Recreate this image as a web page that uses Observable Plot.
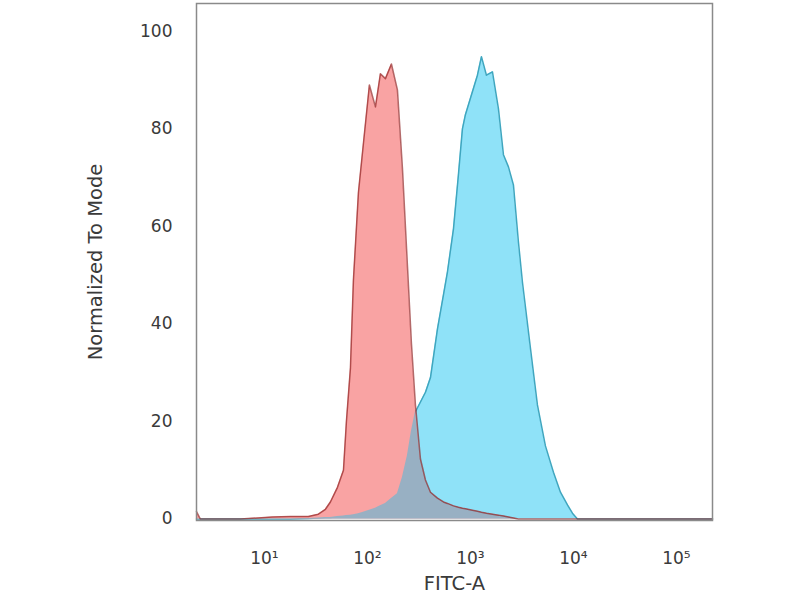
<!DOCTYPE html>
<html>
<head>
<meta charset="utf-8">
<script src="https://cdn.jsdelivr.net/npm/d3@7"></script>
<script src="https://cdn.jsdelivr.net/npm/@observablehq/plot@0.6"></script>
<style>
  body { margin: 0; background: #fff; }
  #chart { width: 800px; height: 600px; }
</style>
</head>
<body>
<div id="chart"></div>
<script>
// FITC-A intensity (shared grid for both histograms)
const fitc = [
  2.19, 2.39, 5.85, 11.96, 17.9, 26.7, 33.4, 39.1, 43.7, 51.2,
  58.5, 62.5, 68.4, 73.1, 81.8, 91.4, 104.5, 119.6, 133.7, 149.6,
  171, 195.5, 218.6, 244.5, 267.4, 292.4, 327.2, 365.9, 409.3, 478.6,
  547.4, 598.4, 684.3, 764.4, 836, 893.6, 1045, 1169, 1279, 1430,
  1636, 1871, 2091, 2339, 2615, 2924, 3197, 3826, 4470, 5346,
  6397, 7480, 8750, 9780, 10940, 14630, 223900
];

// isotype control (red), normalized to mode
const isotype = [
  1.5, 0, 0, 0.4, 0.5, 0.5, 1.0, 2.0, 3.5, 6.5,
  10, 20, 31, 49, 67, 77, 89, 84.5, 91.3, 90.3,
  93.3, 88, 72, 52, 36, 23.4, 12.3, 8, 5.5, 4.3,
  3.5, 3.2, 2.7, 2.4, 2.2, 2.1, 1.8, 1.6, 1.4, 1.2,
  1.0, 0.8, 0.6, 0.4, 0.2, 0, 0, 0, 0, 0,
  0, 0, 0, 0, 0, 0, 0
];

// stained sample (blue), normalized to mode
const stained = [
  0, 0, 0, 0, 0, 0.1, 0.2, 0.3, 0.3, 0.5,
  0.6, 0.7, 0.8, 0.9, 1.1, 1.4, 1.8, 2.2, 2.7, 3.2,
  4.2, 5.2, 8.5, 13, 18, 22, 24, 26, 29, 39,
  46, 50.7, 59.5, 70.6, 80, 82.9, 87.6, 91, 94.8, 91,
  91.7, 84.1, 74.7, 72.2, 68.5, 56.8, 48.6, 35, 23.4, 15,
  9.6, 5.5, 2.9, 1.2, 0, 0, 0
];

const xTicks = [10, 100, 1000, 10000, 100000];
const sup = {1: "¹", 2: "²", 3: "³", 4: "⁴", 5: "⁵"};

const rows = fitc.map((x, i) => ({
  x,
  red: isotype[i],
  blue: stained[i],
  both: Math.min(isotype[i], stained[i]),
}));

const chart = Plot.plot({
  width: 800,
  height: 600,
  marginLeft: 196,
  marginRight: 88,
  marginTop: 3,
  marginBottom: 80,
  x: {
    type: "log",
    domain: [2.19, 223900],
    ticks: xTicks,
    tickFormat: (d) => "10" + sup[Math.round(Math.log10(d))],
    tickSize: 0,
    tickPadding: 31,
    label: "FITC-A",
    labelArrow: "none",
    labelAnchor: "center",
    labelOffset: 69,
  },
  y: {
    domain: [-0.3, 105.7],
    ticks: [0, 20, 40, 60, 80, 100],
    tickSize: 0,
    tickPadding: 24,
    label: "Normalized To Mode",
    labelArrow: "none",
    labelAnchor: "center",
    labelOffset: 108,
  },
  style: {
    "font-family": "DejaVu Sans",
    "font-size": "17px",
    color: "#3a3a3a",
    background: "#fff",
  },
  marks: [
    Plot.areaY(rows, {x: "x", y: "blue", fill: "#8fe2f8"}),
    Plot.lineY(rows, {x: "x", y: "blue", stroke: "#3fa6bf", strokeWidth: 1.5}),
    Plot.areaY(rows, {x: "x", y: "red", fill: "#f9a3a3"}),
    Plot.areaY(rows, {x: "x", y: "both", fill: "#98b0c3"}),
    Plot.lineY(rows, {x: "x", y: "red", stroke: "#8b1a1a", strokeOpacity: 0.65, strokeWidth: 1.5}),
    Plot.frame({stroke: "#8a8a8a", strokeWidth: 1.5}),
  ],
});

// axis titles are a bit larger than the tick labels
d3.select(chart).selectAll('[aria-label="x-axis label"], [aria-label="y-axis label"]')
  .attr("font-size", 19.5);

document.getElementById("chart").append(chart);
</script>
</body>
</html>
